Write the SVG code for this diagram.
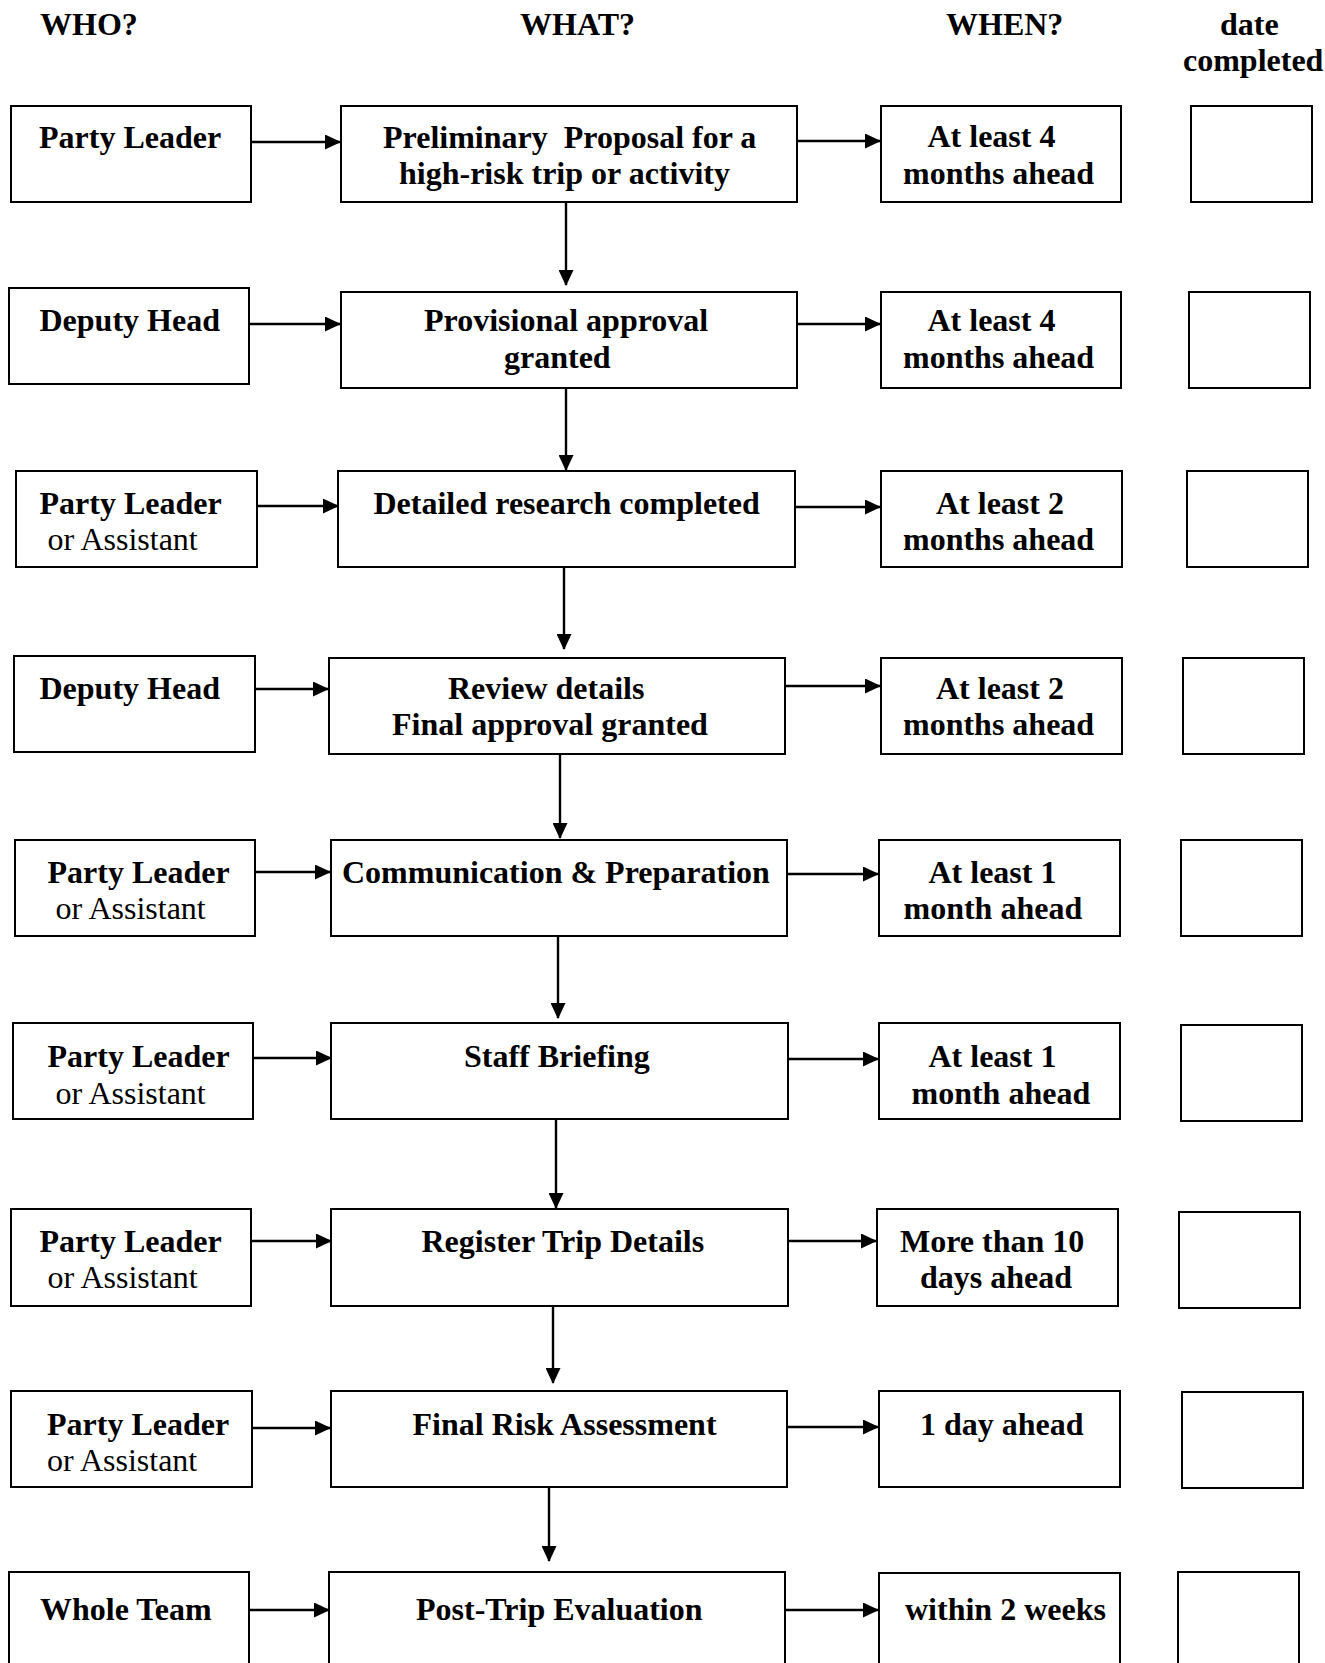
<svg xmlns="http://www.w3.org/2000/svg" width="1325" height="1663" viewBox="0 0 1325 1663">
<style>
text{font-family:"Liberation Serif","Times New Roman",serif;font-size:32px;fill:#000}
.b{font-weight:bold}
rect{fill:#fff;stroke:#000;stroke-width:2}
.c line{stroke:#000;stroke-width:2.4}
</style>
<defs>
<marker id="ah" markerUnits="userSpaceOnUse" markerWidth="16" markerHeight="15" refX="15" refY="7.5" orient="auto">
<path d="M0,0 L16,7.5 L0,15 z" fill="#000"/>
</marker>
</defs>
<rect x="0" y="0" width="1325" height="1663" style="stroke:none"/>
<g id="headers">
<text class="b" x="40" y="35">WHO?</text>
<text class="b" x="520" y="35">WHAT?</text>
<text class="b" x="946" y="35">WHEN?</text>
<text class="b" x="1220" y="35">date</text>
<text class="b" x="1183" y="71">completed</text>
</g>
<g class="c" id="connectors">
<line x1="251" y1="142" x2="340" y2="142" marker-end="url(#ah)"/>
<line x1="797" y1="141" x2="880" y2="141" marker-end="url(#ah)"/>
<line x1="566" y1="202" x2="566" y2="285" marker-end="url(#ah)"/>
<line x1="249" y1="324" x2="340" y2="324" marker-end="url(#ah)"/>
<line x1="797" y1="324" x2="880" y2="324" marker-end="url(#ah)"/>
<line x1="566" y1="387" x2="566" y2="470" marker-end="url(#ah)"/>
<line x1="257" y1="506" x2="338" y2="506" marker-end="url(#ah)"/>
<line x1="795" y1="507" x2="880" y2="507" marker-end="url(#ah)"/>
<line x1="564" y1="567" x2="564" y2="649" marker-end="url(#ah)"/>
<line x1="255" y1="689" x2="328" y2="689" marker-end="url(#ah)"/>
<line x1="785" y1="686" x2="880" y2="686" marker-end="url(#ah)"/>
<line x1="560" y1="754" x2="560" y2="838" marker-end="url(#ah)"/>
<line x1="255" y1="872" x2="330" y2="872" marker-end="url(#ah)"/>
<line x1="787" y1="874" x2="878" y2="874" marker-end="url(#ah)"/>
<line x1="558" y1="936" x2="558" y2="1018" marker-end="url(#ah)"/>
<line x1="253" y1="1058" x2="331" y2="1058" marker-end="url(#ah)"/>
<line x1="788" y1="1059" x2="878" y2="1059" marker-end="url(#ah)"/>
<line x1="556" y1="1119" x2="556" y2="1208" marker-end="url(#ah)"/>
<line x1="251" y1="1241" x2="331" y2="1241" marker-end="url(#ah)"/>
<line x1="788" y1="1241" x2="876" y2="1241" marker-end="url(#ah)"/>
<line x1="553" y1="1306" x2="553" y2="1383" marker-end="url(#ah)"/>
<line x1="252" y1="1428" x2="330" y2="1428" marker-end="url(#ah)"/>
<line x1="787" y1="1427" x2="878" y2="1427" marker-end="url(#ah)"/>
<line x1="549" y1="1487" x2="549" y2="1561" marker-end="url(#ah)"/>
<line x1="249" y1="1610" x2="329" y2="1610" marker-end="url(#ah)"/>
<line x1="785" y1="1610" x2="878" y2="1610" marker-end="url(#ah)"/>
</g>
<!-- Row 1 -->
<g id="who1"><rect x="11" y="106" width="240" height="96"/><text class="b" x="39" y="148">Party Leader</text></g>
<g id="what1"><rect x="341" y="106" width="456" height="96"/><text class="b" x="383" y="147.5" xml:space="preserve">Preliminary  Proposal for a</text><text class="b" x="399" y="183.5">high-risk trip or activity</text></g>
<g id="when1"><rect x="881" y="106" width="240" height="96"/><text class="b" x="927.5" y="147">At least 4</text><text class="b" x="903" y="183.5">months ahead</text></g>
<g id="date1"><rect x="1191" y="106" width="121" height="96"/></g>
<!-- Row 2 -->
<g id="who2"><rect x="9" y="288" width="240" height="96"/><text class="b" x="39.5" y="330.5">Deputy Head</text></g>
<g id="what2"><rect x="341" y="292" width="456" height="96"/><text class="b" x="424" y="331">Provisional approval</text><text class="b" x="504" y="367.5">granted</text></g>
<g id="when2"><rect x="881" y="292" width="240" height="96"/><text class="b" x="927.5" y="331">At least 4</text><text class="b" x="903" y="367.5">months ahead</text></g>
<g id="date2"><rect x="1189" y="292" width="121" height="96"/></g>
<!-- Row 3 -->
<g id="who3"><rect x="16" y="471" width="241" height="96"/><text class="b" x="39.5" y="514">Party Leader</text><text x="47.5" y="550">or Assistant</text></g>
<g id="what3"><rect x="338" y="471" width="457" height="96"/><text class="b" x="373.5" y="514">Detailed research completed</text></g>
<g id="when3"><rect x="881" y="471" width="241" height="96"/><text class="b" x="936" y="514">At least 2</text><text class="b" x="903" y="550">months ahead</text></g>
<g id="date3"><rect x="1187" y="471" width="121" height="96"/></g>
<!-- Row 4 -->
<g id="who4"><rect x="14" y="656" width="241" height="96"/><text class="b" x="39.5" y="698.5">Deputy Head</text></g>
<g id="what4"><rect x="329" y="658" width="456" height="96"/><text class="b" x="448" y="698.5">Review details</text><text class="b" x="392" y="735">Final approval granted</text></g>
<g id="when4"><rect x="881" y="658" width="241" height="96"/><text class="b" x="936" y="698.5">At least 2</text><text class="b" x="903" y="735">months ahead</text></g>
<g id="date4"><rect x="1183" y="658" width="121" height="96"/></g>
<!-- Row 5 -->
<g id="who5"><rect x="15" y="840" width="240" height="96"/><text class="b" x="47.5" y="882.5">Party Leader</text><text x="55.5" y="918.5">or Assistant</text></g>
<g id="what5"><rect x="331" y="840" width="456" height="96"/><text class="b" x="342" y="882.5">Communication &amp; Preparation</text></g>
<g id="when5"><rect x="879" y="840" width="241" height="96"/><text class="b" x="928.5" y="882.5">At least 1</text><text class="b" x="903.5" y="918.5">month ahead</text></g>
<g id="date5"><rect x="1181" y="840" width="121" height="96"/></g>
<!-- Row 6 -->
<g id="who6"><rect x="13" y="1023" width="240" height="96"/><text class="b" x="47.5" y="1067">Party Leader</text><text x="55.5" y="1104">or Assistant</text></g>
<g id="what6"><rect x="331" y="1023" width="457" height="96"/><text class="b" x="464" y="1067">Staff Briefing</text></g>
<g id="when6"><rect x="879" y="1023" width="241" height="96"/><text class="b" x="928.5" y="1067">At least 1</text><text class="b" x="911.5" y="1104">month ahead</text></g>
<g id="date6"><rect x="1181" y="1025" width="121" height="96"/></g>
<!-- Row 7 -->
<g id="who7"><rect x="11" y="1209" width="240" height="97"/><text class="b" x="39.5" y="1252">Party Leader</text><text x="47.5" y="1288">or Assistant</text></g>
<g id="what7"><rect x="331" y="1209" width="457" height="97"/><text class="b" x="421.5" y="1252">Register Trip Details</text></g>
<g id="when7"><rect x="877" y="1209" width="241" height="97"/><text class="b" x="900" y="1252">More than 10</text><text class="b" x="920" y="1288">days ahead</text></g>
<g id="date7"><rect x="1179" y="1212" width="121" height="96"/></g>
<!-- Row 8 -->
<g id="who8"><rect x="11" y="1391" width="241" height="96"/><text class="b" x="47" y="1435">Party Leader</text><text x="47" y="1471">or Assistant</text></g>
<g id="what8"><rect x="331" y="1391" width="456" height="96"/><text class="b" x="412.5" y="1435">Final Risk Assessment</text></g>
<g id="when8"><rect x="879" y="1391" width="241" height="96"/><text class="b" x="920" y="1435">1 day ahead</text></g>
<g id="date8"><rect x="1182" y="1392" width="121" height="96"/></g>
<!-- Row 9 -->
<g id="who9"><rect x="9" y="1572" width="240" height="96"/><text class="b" x="40" y="1620">Whole Team</text></g>
<g id="what9"><rect x="329" y="1572" width="456" height="96"/><text class="b" x="416" y="1619.5">Post-Trip Evaluation</text></g>
<g id="when9"><rect x="879" y="1573" width="241" height="96"/><text class="b" x="905" y="1619.5">within 2 weeks</text></g>
<g id="date9"><rect x="1178" y="1572" width="121" height="96"/></g>
</svg>
